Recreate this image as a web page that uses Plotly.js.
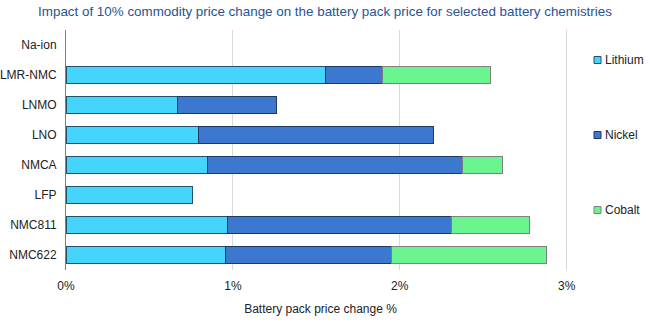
<!DOCTYPE html>
<html>
<head>
<meta charset="utf-8">
<script src="https://cdn.plot.ly/plotly-3.0.1.min.js"></script>
<style>html,body{margin:0;padding:0;background:#fff;}#chart{width:650px;height:323px;}</style>
</head>
<body>
<div id="chart"></div>
<script>
const categories = ["Na-ion", "LMR-NMC", "LNMO", "LNO", "NMCA", "LFP", "NMC811", "NMC622"];
const lithium = [null, 1.554, 0.668, 0.791, 0.847, 0.758, 0.965, 0.956];
const nickel  = [null, 0.343, 0.593, 1.412, 1.529, null, 1.342, 0.997];
const cobalt  = [null, 0.644, null, null, 0.238, null, 0.469, 0.927];
const seriesNames = ["Lithium", "Nickel", "Cobalt"];
const tickVals = [0, 1, 2, 3];
const tickText = ["0%", "1%", "2%", "3%"];

const colors = ['#45d4fc', '#3c78d0', '#6af58f'];
const lineColors = ['#24506a', '#1f3a5f', '#7f7f7f'];
const seriesVals = [lithium, nickel, cobalt];

const data = seriesNames.map((name, i) => ({
  type: 'bar', orientation: 'h', name: name, x: seriesVals[i], y: categories,
  marker: {color: colors[i], line: {color: lineColors[i], width: 1}},
  width: 0.57, showlegend: false, hoverinfo: 'x+name'
}));

// plot area geometry (pixels)
const W = 650, H = 323, L = 66, R = 75, T = 30, B = 53;
const pw = W - L - R, ph = H - T - B;
const px = p => (p - L) / pw;
const py = p => (H - B - p) / ph;
const legendY = [60, 135, 210];

const shapes = [];
const annotations = [];
seriesNames.forEach((name, i) => {
  shapes.push({type: 'rect', xref: 'paper', yref: 'paper',
    x0: px(594), x1: px(601), y0: py(legendY[i] + 3.5), y1: py(legendY[i] - 3.5),
    fillcolor: colors[i], line: {color: lineColors[i], width: 1}});
  annotations.push({xref: 'paper', yref: 'paper', x: px(603), y: py(legendY[i]),
    xanchor: 'left', yanchor: 'middle', text: name, showarrow: false,
    font: {size: 12, color: '#222'}});
});

const layout = {
  width: W, height: H,
  margin: {l: L, r: R, t: T, b: B, autoexpand: false},
  paper_bgcolor: '#fff', plot_bgcolor: '#fff',
  font: {family: 'Liberation Sans, Arial, sans-serif', size: 12, color: '#222'},
  title: {text: 'Impact of 10% commodity price change on the battery pack price for selected battery chemistries',
          font: {size: 13.4, color: '#2a5391'}, x: 0.5, xanchor: 'center', y: 1 - 11 / H, yanchor: 'middle', yref: 'container'},
  barmode: 'stack',
  xaxis: {range: [0, 3.05], tickvals: tickVals, ticktext: tickText, showgrid: true, gridcolor: '#d9d9d9', gridwidth: 1,
          zeroline: false, showline: false, ticks: '', tickfont: {size: 12, color: '#222'}, ticklabelstandoff: 7,
          title: {text: 'Battery pack price change %', font: {size: 12, color: '#222'}, standoff: 12}},
  yaxis: {autorange: 'reversed', showline: true, linecolor: '#808080', linewidth: 1, ticks: '', showgrid: false,
          tickfont: {size: 12, color: '#222'}, ticklabelstandoff: 6},
  showlegend: false,
  shapes: shapes,
  annotations: annotations,
  bargap: 0.43
};
Plotly.newPlot('chart', data, layout, {displayModeBar: false, staticPlot: true});
</script>
</body>
</html>
